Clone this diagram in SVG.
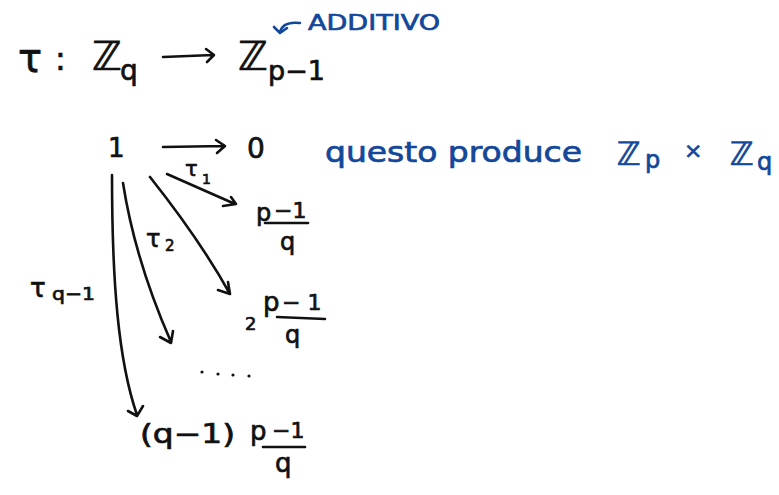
<svg xmlns="http://www.w3.org/2000/svg" width="779" height="495" viewBox="0 0 779 495">
<style>
text{font-family:"DejaVu Sans","Noto Sans",sans-serif;fill:#111;stroke:#111;stroke-width:0.7}
text.b{fill:#12479a;stroke:#12479a}
.s{fill:none;stroke:#111;stroke-width:2.6;stroke-linecap:round;stroke-linejoin:round}
.sb{fill:none;stroke:#12479a;stroke-width:2.6;stroke-linecap:round;stroke-linejoin:round}
</style>
<rect width="779" height="495" fill="#fff"/>
<g id="map">
<text x="18" y="72" font-size="40">τ</text>
<text x="55" y="70" font-size="32">:</text>
<text x="92" y="70" font-size="40">ℤ</text>
<text x="120" y="80" font-size="28">q</text>
<text x="238" y="70" font-size="40">ℤ</text>
<text x="268" y="80" font-size="26" textLength="57" lengthAdjust="spacingAndGlyphs">p−1</text>
</g>
<g id="additivo">
<text class="b" x="308" y="30" font-size="22" textLength="132" lengthAdjust="spacingAndGlyphs">ADDITIVO</text>
<path class="sb" d="M300 23 Q283 21 280 32 M274 27 L280 33 L287 28"/>
</g>
<g id="one"><text x="108" y="157" font-size="26">1</text></g>
<g id="zero"><text x="247" y="158" font-size="28">0</text></g>
<g id="note">
<text class="b" x="325" y="162" font-size="28" textLength="257" lengthAdjust="spacingAndGlyphs">questo produce</text>
<text class="b" x="617" y="165" font-size="32">ℤ</text>
<text class="b" x="645" y="168" font-size="24">p</text>
<text class="b" x="684" y="158" font-size="22">×</text>
<text class="b" x="730" y="165" font-size="32">ℤ</text>
<text class="b" x="757" y="170" font-size="24">q</text>
</g>
<g id="val1">
<text x="256" y="221" font-size="24">p</text>
<text x="274" y="218" font-size="22">−1</text>
<path class="s" d="M265 223 L308 223"/>
<text x="280" y="250" font-size="24">q</text>
</g>
<g id="val2">
<text x="245" y="330" font-size="18">2</text>
<text x="263" y="311" font-size="26">p</text>
<text x="282" y="310" font-size="22">− 1</text>
<path class="s" d="M277 317 L325 319"/>
<text x="285" y="343" font-size="24">q</text>
</g>
<g id="dots" fill="#111">
<circle cx="202" cy="372" r="1.6"/><circle cx="218" cy="374" r="1.6"/><circle cx="233" cy="375" r="1.6"/><circle cx="249" cy="376" r="1.6"/>
</g>
<g id="valq">
<text x="140" y="443" font-size="26" textLength="95" lengthAdjust="spacingAndGlyphs">(q−1)</text>
<text x="250" y="440" font-size="26">p</text>
<text x="272" y="438" font-size="22">−1</text>
<path class="s" d="M263 447 L305 447"/>
<text x="275" y="472" font-size="26">q</text>
</g>
<g id="labels">
<text x="185" y="176" font-size="21">τ</text><text x="202" y="184" font-size="14">1</text>
<text x="146" y="247" font-size="24">τ</text><text x="165" y="251" font-size="15">2</text>
<text x="30" y="297" font-size="26">τ</text><text x="52" y="300" font-size="18" textLength="43" lengthAdjust="spacingAndGlyphs">q−1</text>
</g>
<g id="connectors">
<path class="s" d="M163 57 L213 55 M206 49 L214 55 L207 62"/>
<path class="s" d="M163 147 L224 146 M216 140 L225 146 L217 153"/>
<path class="s" d="M167 174 L235 204 M231 197 L236 204 L223 206"/>
<path class="s" d="M150 177 Q200 240 230 294 M218 290 L230 294 L228 282"/>
<path class="s" d="M123 183 Q135 260 171 342 M160 337 L171 343 L173 331"/>
<path class="s" d="M112 175 C112 280 118 360 137 415 M128 411 L137 416 L143 406"/>
</g>
</svg>
